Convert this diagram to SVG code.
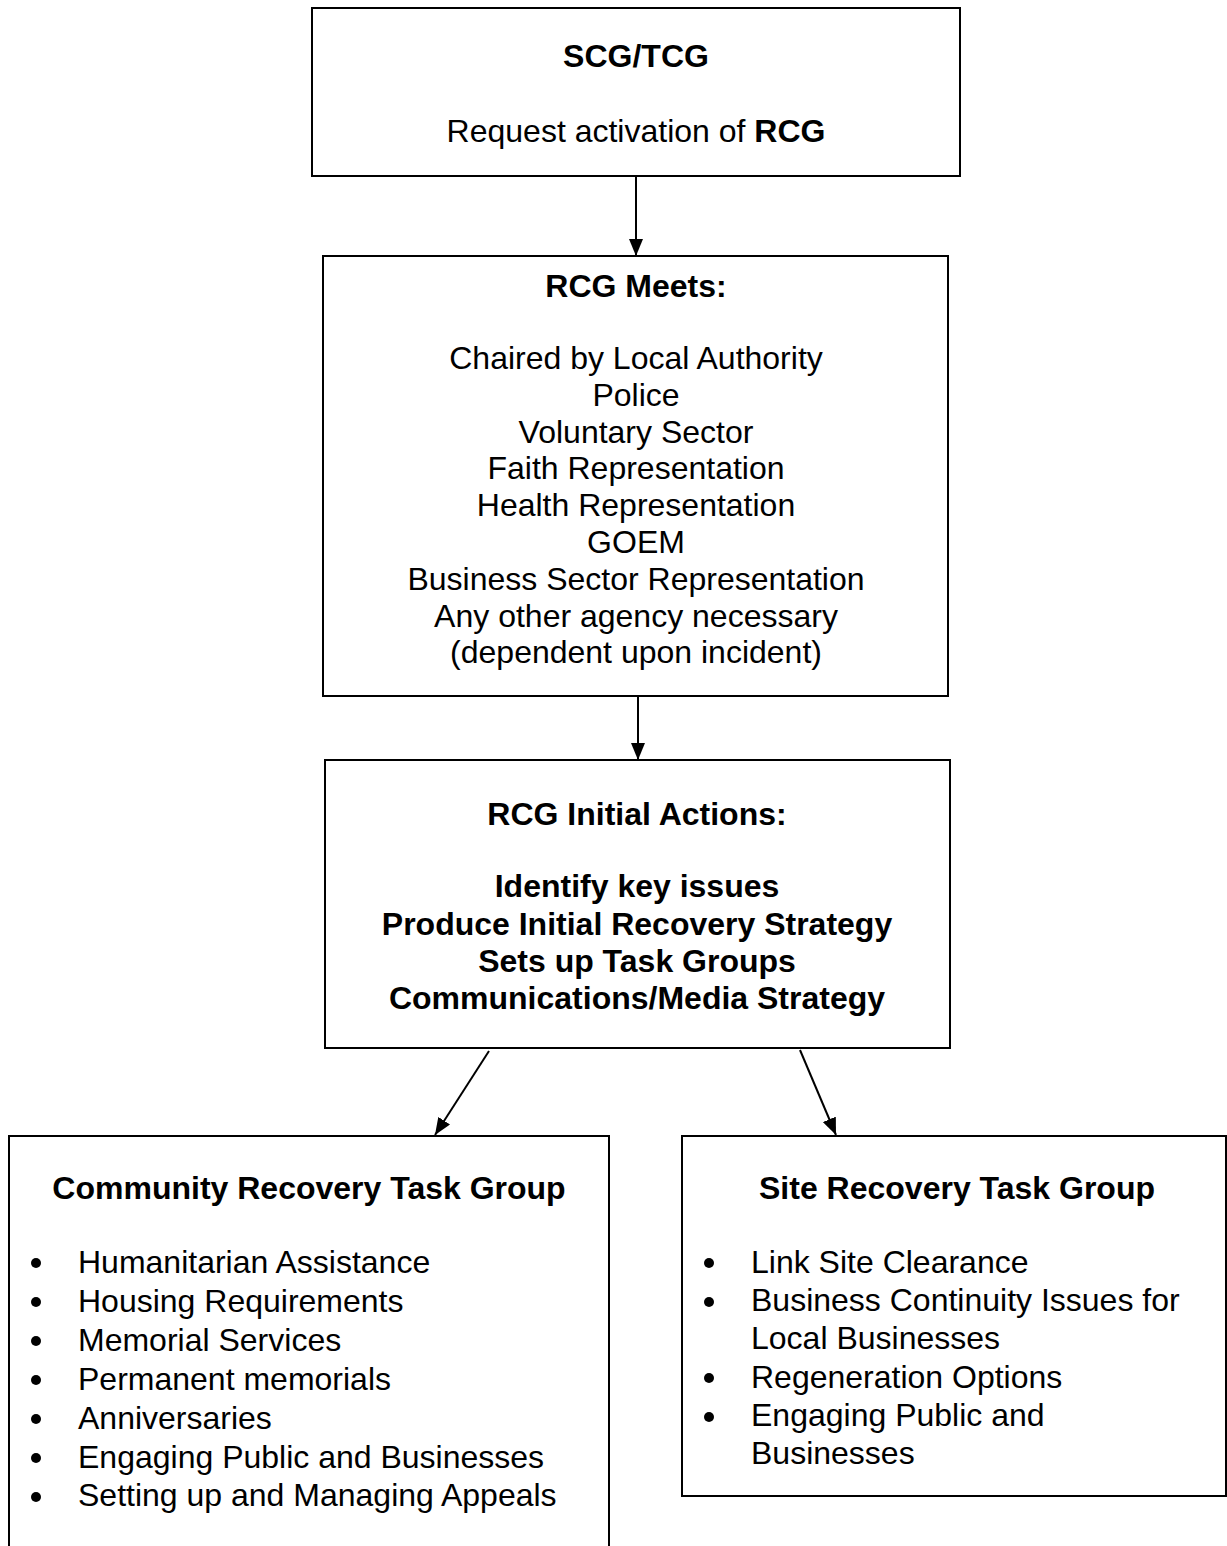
<svg xmlns="http://www.w3.org/2000/svg" width="1227" height="1546" viewBox="0 0 1227 1546">
<style>
  .box { fill: #ffffff; stroke: #000000; stroke-width: 2; }
  .t { font-family: "Liberation Sans", Arial, sans-serif; font-size: 32px; fill: #000000; }
  .c { text-anchor: middle; }
  .b { font-weight: bold; }
  .conn { stroke: #000000; stroke-width: 2; fill: none; }
</style>
<defs>
  <marker id="arrow" markerUnits="userSpaceOnUse" markerWidth="17" markerHeight="14" refX="17" refY="7" orient="auto">
    <path d="M0,0 L17,7 L0,14 Z" fill="#000000"/>
  </marker>
</defs>
<rect x="0" y="0" width="1227" height="1546" fill="#ffffff"/>

<g id="connectors">
  <line class="conn" x1="636" y1="177" x2="636" y2="256" marker-end="url(#arrow)"/>
  <line class="conn" x1="638" y1="697" x2="638" y2="760" marker-end="url(#arrow)"/>
  <line class="conn" x1="489" y1="1051" x2="435" y2="1135" marker-end="url(#arrow)"/>
  <line class="conn" x1="800" y1="1050" x2="836" y2="1135" marker-end="url(#arrow)"/>
</g>

<g id="scg-tcg">
  <rect class="box" x="312" y="8" width="648" height="168"/>
  <text class="t c b" x="636" y="67">SCG/TCG</text>
  <text class="t c" x="636" y="142">Request activation of <tspan class="b">RCG</tspan></text>
</g>

<g id="rcg-meets">
  <rect class="box" x="323" y="256" width="625" height="440"/>
  <text class="t c b" x="636" y="297">RCG Meets:</text>
  <text class="t c" x="636" y="369">Chaired by Local Authority</text>
  <text class="t c" x="636" y="406">Police</text>
  <text class="t c" x="636" y="443">Voluntary Sector</text>
  <text class="t c" x="636" y="479">Faith Representation</text>
  <text class="t c" x="636" y="516">Health Representation</text>
  <text class="t c" x="636" y="553">GOEM</text>
  <text class="t c" x="636" y="590">Business Sector Representation</text>
  <text class="t c" x="636" y="627">Any other agency necessary</text>
  <text class="t c" x="636" y="663">(dependent upon incident)</text>
</g>

<g id="rcg-initial-actions">
  <rect class="box" x="325" y="760" width="625" height="288"/>
  <text class="t c b" x="637" y="825">RCG Initial Actions:</text>
  <text class="t c b" x="637" y="897">Identify key issues</text>
  <text class="t c b" x="637" y="935">Produce Initial Recovery Strategy</text>
  <text class="t c b" x="637" y="972">Sets up Task Groups</text>
  <text class="t c b" x="637" y="1009">Communications/Media Strategy</text>
</g>

<g id="community-recovery">
  <rect class="box" x="9" y="1136" width="600" height="430"/>
  <text class="t c b" x="309" y="1199">Community Recovery Task Group</text>
  <g fill="#000000">
    <circle cx="36" cy="1263" r="5"/>
    <circle cx="36" cy="1302" r="5"/>
    <circle cx="36" cy="1341" r="5"/>
    <circle cx="36" cy="1380" r="5"/>
    <circle cx="36" cy="1419" r="5"/>
    <circle cx="36" cy="1458" r="5"/>
    <circle cx="36" cy="1497" r="5"/>
  </g>
  <text class="t" x="78" y="1273">Humanitarian Assistance</text>
  <text class="t" x="78" y="1312">Housing Requirements</text>
  <text class="t" x="78" y="1351">Memorial Services</text>
  <text class="t" x="78" y="1390">Permanent memorials</text>
  <text class="t" x="78" y="1429">Anniversaries</text>
  <text class="t" x="78" y="1468">Engaging Public and Businesses</text>
  <text class="t" x="78" y="1506">Setting up and Managing Appeals</text>
</g>

<g id="site-recovery">
  <rect class="box" x="682" y="1136" width="544" height="360"/>
  <text class="t c b" x="957" y="1199">Site Recovery Task Group</text>
  <g fill="#000000">
    <circle cx="709" cy="1263" r="5"/>
    <circle cx="709" cy="1302" r="5"/>
    <circle cx="709" cy="1378" r="5"/>
    <circle cx="709" cy="1417" r="5"/>
  </g>
  <text class="t" x="751" y="1273">Link Site Clearance</text>
  <text class="t" x="751" y="1311">Business Continuity Issues for</text>
  <text class="t" x="751" y="1349">Local Businesses</text>
  <text class="t" x="751" y="1388">Regeneration Options</text>
  <text class="t" x="751" y="1426">Engaging Public and</text>
  <text class="t" x="751" y="1464">Businesses</text>
</g>
</svg>
